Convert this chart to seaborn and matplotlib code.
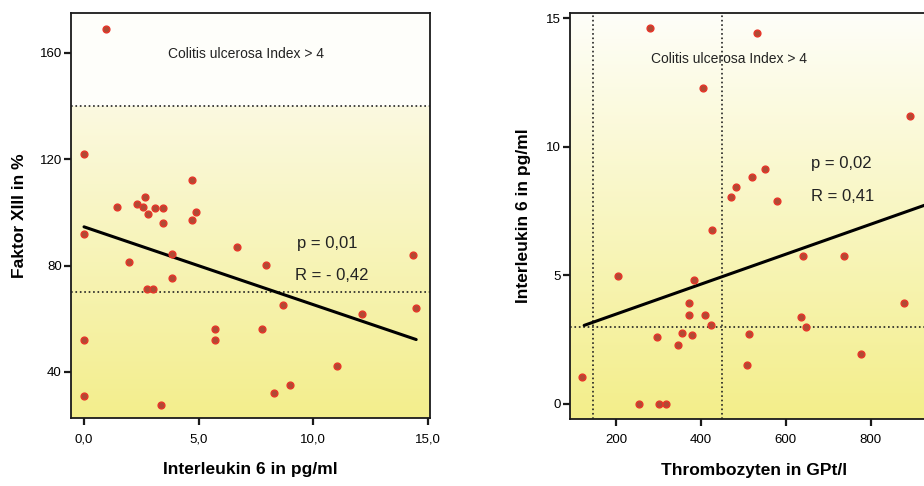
import numpy as np
import pandas as pd
import matplotlib
matplotlib.use('Agg')
import matplotlib.pyplot as plt
from matplotlib.colors import LinearSegmentedColormap
import seaborn as sns

# Daten links: Interleukin 6 vs. Faktor XIII
il6_links = [0.96, 0.0, 4.72, 1.43, 2.33, 2.66, 2.59, 2.78, 3.1, 3.44, 3.46, 4.89,
             4.72, 0.0, 6.67, 3.83, 14.34, 1.98, 7.93, 3.86, 2.74, 3.0, 8.68, 12.13,
             14.5, 5.72, 7.78, 5.72, 0.0, 11.03, 9.0, 8.3, 0.0, 3.38]
faktor13 = [168.9, 121.9, 112.3, 102.2, 103.2, 106.0, 102.2, 99.4, 101.6, 101.6, 96.2, 100.0,
            97.0, 91.8, 87.0, 84.5, 83.9, 81.4, 80.1, 75.4, 71.4, 71.4, 65.3, 61.9,
            64.1, 56.0, 56.0, 52.0, 52.0, 42.1, 35.2, 32.2, 30.8, 27.7]
fit_links_x = [0.0, 14.5]
fit_links_y = [94.6, 52.2]
grenze_links = [140, 70]

# Daten rechts: Thrombozyten vs. Interleukin 6
thrombo = [279, 531, 405, 893, 550, 521, 483, 471, 579, 426, 640, 737, 204, 382, 371, 878,
           371, 410, 636, 424, 648, 354, 379, 513, 297, 345, 776, 509, 118, 253, 301, 317]
il6_rechts = [14.64, 14.41, 12.29, 11.18, 9.14, 8.82, 8.43, 8.03, 7.9, 6.77, 5.75, 5.75,
              4.97, 4.8, 3.93, 3.93, 3.45, 3.45, 3.39, 3.06, 2.98, 2.76, 2.66, 2.73,
              2.6, 2.28, 1.95, 1.5, 1.03, 0.0, 0.0, 0.0]
fit_rechts_x = [124, 928]
fit_rechts_y = [3.05, 7.73]
grenze_rechts_x = [145, 450]
grenze_rechts_y = [3]

sns.set_theme(style='white')
plt.rcParams['font.family'] = ['Liberation Sans', 'DejaVu Sans']
plt.rcParams['axes.labelcolor'] = 'black'

gelb = LinearSegmentedColormap.from_list('gelb', ['#f3ee8c', '#fbf9e0'])
gelb_r = LinearSegmentedColormap.from_list('gelb_r', ['#f3ee8a', '#fefef9'])
grad = np.linspace(0, 1, 256).reshape(-1, 1)

fig = plt.figure(figsize=(9.24, 4.86), dpi=100)
ax1 = fig.add_axes([0.0768, 0.140, 0.3885, 0.833])
ax2 = fig.add_axes([0.6166, 0.138, 0.40, 0.835])

punkt = dict(color='#b04a34', edgecolor='#e8352a', linewidth=1.0, s=24, zorder=5)

# linkes Diagramm
ax1.set_xlim(-0.57, 15.1)
ax1.set_ylim(22.7, 175)
ax1.set_facecolor('#fefefa')
ax1.imshow(grad, cmap=gelb, origin='lower', aspect='auto',
           extent=(-0.57, 15.1, 22.7, grenze_links[0]), zorder=0)
df1 = pd.DataFrame({'il6': il6_links, 'f13': faktor13})
sns.scatterplot(data=df1, x='il6', y='f13', ax=ax1, **punkt)
sns.lineplot(x=fit_links_x, y=fit_links_y, ax=ax1, color='black', linewidth=2.2, zorder=4)
for g in grenze_links:
    ax1.axhline(g, color='#222222', linestyle=':', linewidth=1.2, zorder=3)
ax1.set_xticks([0, 5, 10, 15])
ax1.set_xticklabels(['0,0', '5,0', '10,0', '15,0'])
ax1.set_yticks([40, 80, 120, 160])
ax1.set_xlabel('Interleukin 6 in pg/ml', fontsize=12.5, fontweight='bold', labelpad=12)
ax1.set_ylabel('Faktor XIII in %', fontsize=12.5, fontweight='bold', labelpad=9)
ax1.text(7.05, 159.5, 'Colitis ulcerosa Index > 4', fontsize=10, ha='center', va='center',
         color='#222222')
ax1.text(9.3, 88.3, 'p = 0,01', fontsize=12, ha='left', va='center', color='#222222')
ax1.text(9.2, 76.2, 'R = - 0,42', fontsize=12, ha='left', va='center', color='#222222')

# rechtes Diagramm
ax2.set_xlim(90, 962)
ax2.set_ylim(-0.59, 15.2)
ax2.imshow(grad, cmap=gelb_r, origin='lower', aspect='auto',
           extent=(90, 962, -0.59, 15.2), zorder=0)
df2 = pd.DataFrame({'thr': thrombo, 'il6': il6_rechts})
sns.scatterplot(data=df2, x='thr', y='il6', ax=ax2, **punkt)
sns.lineplot(x=fit_rechts_x, y=fit_rechts_y, ax=ax2, color='black', linewidth=2.2, zorder=4)
for g in grenze_rechts_x:
    ax2.axvline(g, color='#222222', linestyle=':', linewidth=1.2, zorder=3)
for g in grenze_rechts_y:
    ax2.axhline(g, color='#222222', linestyle=':', linewidth=1.2, zorder=3)
ax2.set_xticks([200, 400, 600, 800])
ax2.set_yticks([0, 5, 10, 15])
ax2.set_xlabel('Thrombozyten in GPt/l', fontsize=12.5, fontweight='bold', labelpad=12)
ax2.set_ylabel('Interleukin 6 in pg/ml', fontsize=12.5, fontweight='bold', labelpad=11)
ax2.text(465, 13.4, 'Colitis ulcerosa Index > 4', fontsize=10, ha='center', va='center',
         color='#222222')
ax2.text(659, 9.33, 'p = 0,02', fontsize=12, ha='left', va='center', color='#222222')
ax2.text(659, 8.05, 'R = 0,41', fontsize=12, ha='left', va='center', color='#222222')

for ax in (ax1, ax2):
    for sp in ax.spines.values():
        sp.set_color('#1a1a1a')
        sp.set_linewidth(1.3)
    ax.tick_params(axis='both', which='major', direction='out', length=5, width=1.6,
                   color='#1a1a1a', labelcolor='black', labelsize=9.5,
                   left=True, bottom=True)
    ax.tick_params(axis='x', pad=6)
    ax.tick_params(axis='y', pad=1.5)

fig.savefig('out.png', dpi=100)
